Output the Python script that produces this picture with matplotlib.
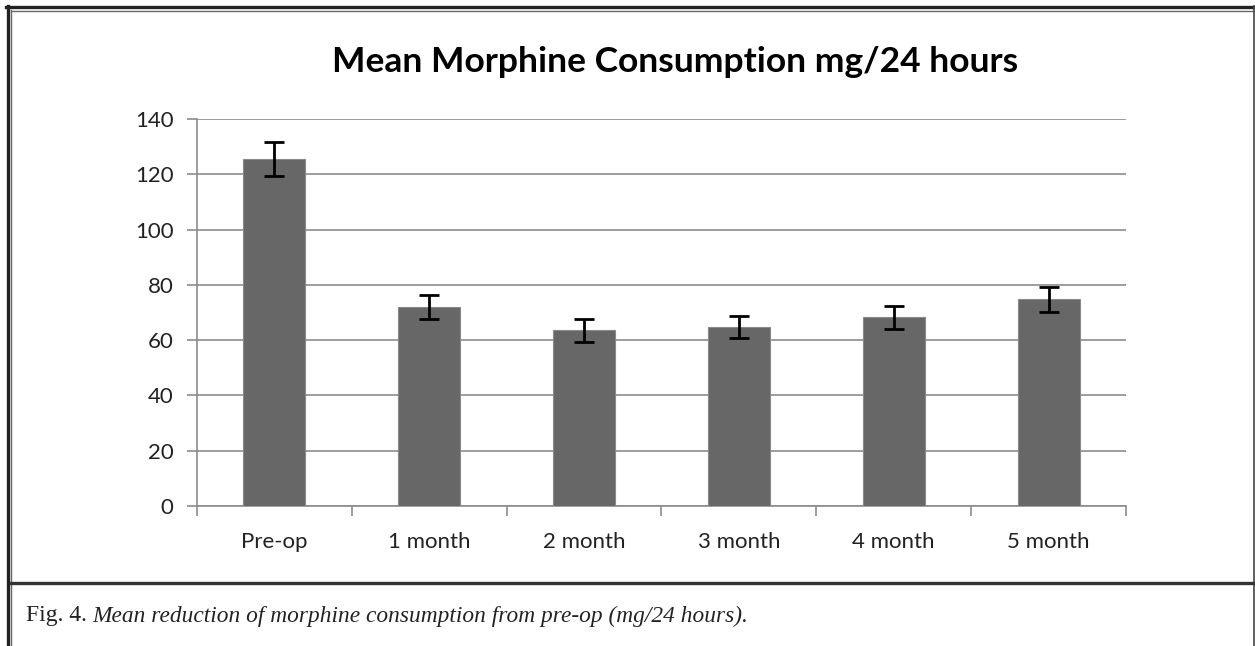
import matplotlib.pyplot as plt
from matplotlib.lines import Line2D

categories = ['Pre-op', '1 month', '2 month', '3 month', '4 month', '5 month']
means = [125.4, 72.0, 63.5, 64.6, 68.2, 74.8]
errors = [6.2, 4.4, 4.0, 4.0, 4.3, 4.5]
yticks = [0, 20, 40, 60, 80, 100, 120, 140]

W, H = 1255, 646
fig = plt.figure(figsize=(W / 100, H / 100), dpi=100)

# plot area in pixels
left, right, top, bottom = 197, 1126, 119, 506
ax = fig.add_axes([left / W, 1 - bottom / H, (right - left) / W, (bottom - top) / H])

x = list(range(len(categories)))
ax.bar(x, means, width=0.4, color='#676767', edgecolor='#8a8a8a', linewidth=0.8, zorder=3)
ax.errorbar(x, means, yerr=errors, fmt='none', ecolor='black', elinewidth=2,
            capsize=7, capthick=2, zorder=4)

ax.set_xlim(-0.5, len(categories) - 0.5)
ax.set_ylim(0, 140)
ax.set_yticks(yticks)
ax.set_xticks(x)
ax.set_xticklabels(categories)
ax.set_xticks([i - 0.5 for i in range(len(categories) + 1)], minor=True)
ax.grid(axis='y', color='#8c8c8c', linewidth=1.2, zorder=0)

for s in ['top', 'right']:
    ax.spines[s].set_visible(False)
for s in ['left', 'bottom']:
    ax.spines[s].set_color('#8c8c8c')
    ax.spines[s].set_linewidth(1.2)

ax.tick_params(axis='y', length=7, width=1.2, color='#8c8c8c', labelsize=16,
               labelcolor='#222222', pad=10)
ax.tick_params(axis='x', which='major', length=0, labelsize=16, labelcolor='#222222', pad=19)
ax.tick_params(axis='x', which='minor', length=7, width=1.2, color='#8c8c8c')
for lab in ax.get_xticklabels() + ax.get_yticklabels():
    lab.set_family('Lato')

fig.text(675 / W, 1 - 62 / H, 'Mean Morphine Consumption mg/24 hours', ha='center', va='center',
         fontsize=25.5, fontweight='bold', family='Lato', color='black')

# caption
fig.text(26 / W, 1 - 616 / H, 'Fig. 4.', ha='left', va='center', fontsize=17,
         family='Liberation Serif', color='#222222')
fig.text(92 / W, 1 - 616 / H, 'Mean reduction of morphine consumption from pre-op (mg/24 hours).',
         ha='left', va='center', fontsize=16.8, family='Liberation Serif', style='italic',
         color='#222222')

# frame lines
def hline(y, x0, x1, lw, c):
    fig.add_artist(Line2D([x0 / W, x1 / W], [1 - y / H, 1 - y / H], lw=lw, color=c))

def vline(xp, y0, y1, lw, c):
    fig.add_artist(Line2D([xp / W, xp / W], [1 - y0 / H, 1 - y1 / H], lw=lw, color=c))

hline(6.5, 6, 1255, 2.4, '#222222')
hline(10.5, 11, 1255, 1.0, '#666666')
vline(7.5, 6, 646, 2.4, '#222222')
vline(11.5, 10, 646, 1.0, '#666666')
vline(1253.5, 6, 646, 1.2, '#444444')
hline(582.5, 11, 1254, 2.4, '#333333')

fig.savefig('out.png', dpi=100)
